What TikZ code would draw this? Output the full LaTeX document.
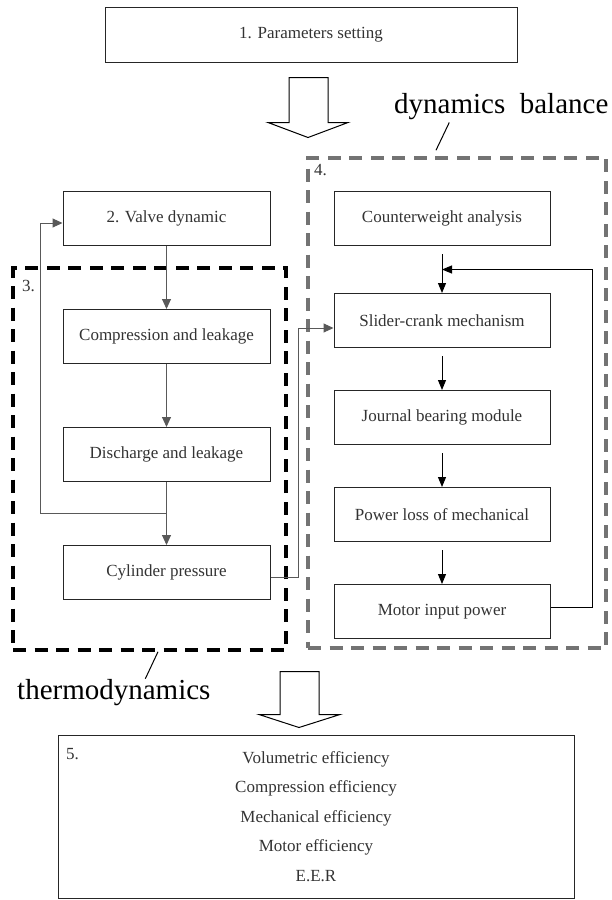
\documentclass[tikz,border=0pt]{standalone}
\usepackage{fontspec}
\setmainfont{Liberation Serif}
\usetikzlibrary{arrows.meta, positioning, calc}

\begin{document}
\begin{tikzpicture}[x=1pt, y=-1pt,
        node distance=63pt and 2cm,
        block/.style={rectangle, draw=black!85, line width=1pt, text=black!80, minimum width=207pt, minimum height=54pt, inner sep=0pt, font=\fontsize{17pt}{20pt}\selectfont},
        wideblock/.style={block, minimum width=216pt},
        numlabel/.style={anchor=north west, inner sep=0pt, text=black!80, font=\fontsize{17pt}{20pt}\selectfont},
        groupbox/.style={rectangle, line width=3.5pt, dash pattern=on 13pt off 8.5pt, inner sep=0pt},
        biglabel/.style={anchor=base west, inner sep=0pt, font=\fontsize{29pt}{34pt}\selectfont},
        flowgray/.style={draw=black!65, line width=1pt, -{Triangle[length=10pt,width=9pt]}},
        flowblack/.style={draw=black, line width=1pt, -{Triangle[length=10pt,width=8pt]}, shorten <=8pt},
        hollow/.style={draw=black, line width=1pt, fill=white, line join=miter}
    ]
        \useasboundingbox (0,0) rectangle (612,900);

        % Grupos
        \node[groupbox, draw=black, minimum width=273pt, minimum height=382pt] (thermo) at (149.5,459) {};
        \node[groupbox, draw=black!55, minimum width=298pt, minimum height=490pt] (dynbal) at (457,403) {};
        \node[numlabel] (n3) at (22,280) {3.};
        \node[numlabel] (n4) at (314,164) {4.};

        % Nós do diagrama
        \node[block, minimum width=412pt, minimum height=55pt] (params) at (311,34.5) {1. Parameters setting};
        \node[block] (valve) at (166.5,218.5) {2. Valve dynamic};
        \node[block, below=of valve] (comp) {Compression and leakage};
        \node[block, below=of comp] (disch) {Discharge and leakage};
        \node[block, below=of disch] (cyl) {Cylinder pressure};

        \node[wideblock] (cw) at (442,218.5) {Counterweight analysis};
        \node[wideblock, below=47pt of cw] (slider) {Slider-crank mechanism};
        \node[wideblock, below=42pt of slider] (journal) {Journal bearing module};
        \node[wideblock, below=42pt of journal] (ploss) {Power loss of mechanical};
        \node[wideblock, below=42pt of ploss] (motor) {Motor input power};

        \node[block, minimum width=516pt, minimum height=163pt, align=center, font=\fontsize{17pt}{29.5pt}\selectfont] (results) at (316,816.5) {Volumetric efficiency\\ Compression efficiency\\ Mechanical efficiency\\ Motor efficiency\\ E.E.R};
        \node[numlabel] (n5) at (66,748) {5.};

        \node[biglabel] (thermolbl) at (17,699) {thermodynamics};
        \node[biglabel] (dynlbl) at (394,113) {dynamics\ \ balance};

        % Conexões
        \draw[flowgray] (valve) -- (comp);
        \draw[flowgray] (comp) -- (disch);
        \draw[flowgray] (disch) -- (cyl);
        \coordinate (split) at ($(disch.south)!0.5!(cyl.north)$);
        \draw[flowgray] (split) -- ++(-126.5,0) |- ([yshift=-4.5pt]valve.west);
        \draw[flowgray] ([yshift=-4.5pt]cyl.east) -- ++(28,0) |- ([yshift=-7.5pt]slider.west);

        \draw[flowblack] (cw) -- (slider);
        \draw[flowblack] (slider) -- (journal);
        \draw[flowblack] (journal) -- (ploss);
        \draw[flowblack] (ploss) -- (motor);
        \coordinate (merge) at ($(cw.south)!0.5!(slider.north)$);
        \draw[flowblack, shorten <=0pt] ([yshift=4pt]motor.east) -- ++(42,0) |- (merge);

        % Setas largas
        \draw[hollow] ([xshift=-22pt, yshift=-15pt]params.south) -- ++(39,0) -- ++(0,45) -- ++(20,0) -- ++(-40,15) -- ++(-40,-15) -- ++(21,0) -- cycle;
        \draw[hollow] ([xshift=-36pt, yshift=63pt]results.north) -- ++(39,0) -- ++(0,43) -- ++(21,0) -- ++(-41,13) -- ++(-40,-13) -- ++(21,0) -- cycle;

        % Traços dos rótulos
        \draw[line width=1pt] ([xshift=8.5pt]thermo.south) -- ([xshift=31.5pt]thermolbl.north);
        \draw[line width=1pt] ([xshift=-21pt, yshift=6pt]dynbal.north) -- ([xshift=-52pt, yshift=-3pt]dynlbl.south);
    \end{tikzpicture}
\end{document}
